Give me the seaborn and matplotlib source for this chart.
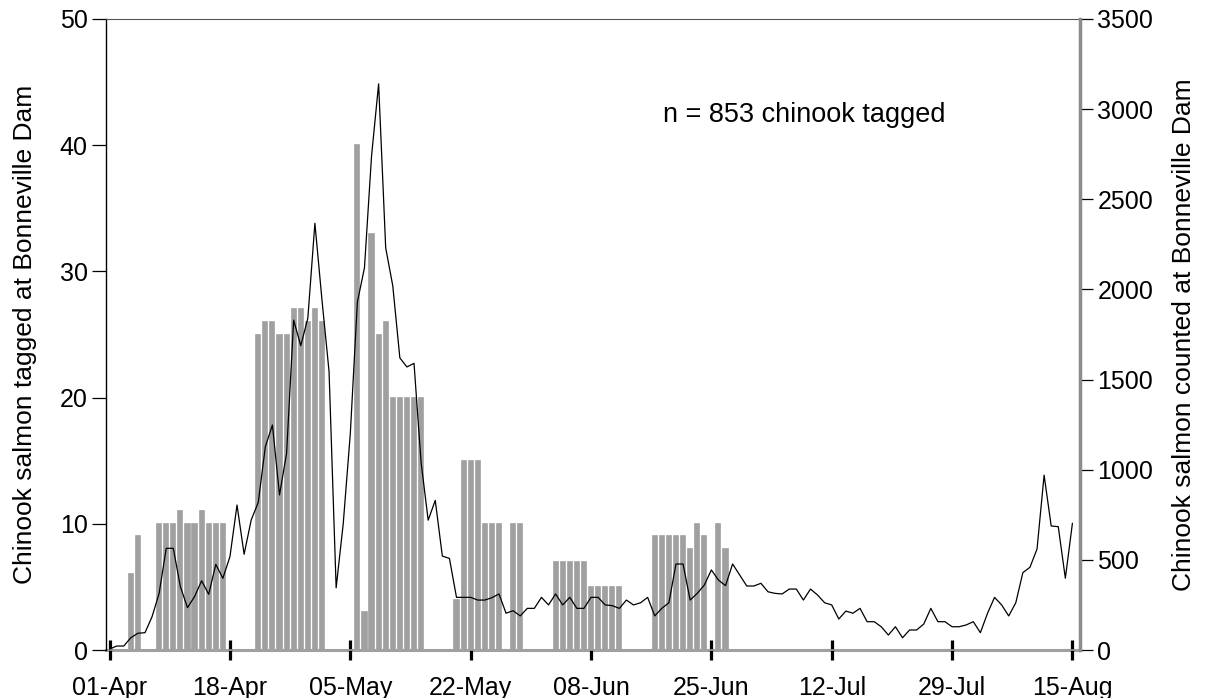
import numpy as np
import pandas as pd
import matplotlib
matplotlib.use("Agg")
import matplotlib.pyplot as plt
import seaborn as sns

# Daily series, 01-Apr through 15-Aug (137 days)
dates = pd.date_range("2000-04-01", "2000-08-15", freq="D")

# Adult chinook counted at the dam each day (right axis)
counted = [
    5, 22, 22, 68, 93, 96, 185, 315, 564, 564,
    351, 235, 296, 384, 309, 475, 398, 518, 804, 531,
    721, 819, 1128, 1248, 860, 1091, 1830, 1688, 1840, 2367,
    1941, 1544, 345, 700, 1200, 1930, 2120, 2740, 3140, 2230,
    2020, 1620, 1570, 1590, 1040, 720, 830, 521, 508, 292,
    292, 292, 277, 277, 290, 311, 204, 218, 189, 231,
    231, 292, 250, 311, 250, 292, 231, 231, 292, 292,
    250, 246, 231, 277, 250, 262, 292, 189, 231, 262,
    477, 477, 277, 314, 360, 444, 388, 357, 477, 416,
    355, 355, 370, 323, 314, 311, 338, 338, 277, 338,
    305, 262, 250, 172, 216, 204, 231, 157, 157, 129,
    83, 129, 68, 111, 111, 144, 231, 157, 157, 129,
    129, 139, 157, 96, 203, 292, 250, 189, 262, 429,
    459, 560, 970, 688, 684, 398, 703,
]

# Chinook tagged each day (left axis); days not listed are zero
tagged_runs = {
    3: [6, 9],
    7: [10, 10, 10, 11, 10, 10, 11, 10, 10, 10],
    21: [25, 26, 26, 25, 25, 27, 27, 26, 27, 26],
    35: [40, 3, 33, 25, 26, 20, 20, 20, 20, 20],
    49: [4, 15, 15, 15, 10, 10, 10, 0, 10, 10],
    63: [7, 7, 7, 7, 7, 5, 5, 5, 5, 5],
    77: [9, 9, 9, 9, 9, 8, 10, 9, 0, 10, 8],
}

tick_labels = ["01-Apr", "18-Apr", "05-May", "22-May", "08-Jun",
               "25-Jun", "12-Jul", "29-Jul", "15-Aug"]

tagged = np.zeros(len(dates), dtype=int)
for start, vals in tagged_runs.items():
    tagged[start:start + len(vals)] = vals

df = pd.DataFrame({
    "day": np.arange(len(dates)),
    "date": dates,
    "tagged": tagged,
    "counted": counted,
})
tick_days = [df.index[df["date"].dt.strftime("%d-%b") == lab][0] for lab in tick_labels]

sns.set_theme(style="ticks")
plt.rcParams["font.family"] = ["Liberation Sans", "DejaVu Sans"]
plt.rcParams["text.color"] = "black"
plt.rcParams["xtick.labelcolor"] = "black"
plt.rcParams["ytick.labelcolor"] = "black"
plt.rcParams["axes.labelcolor"] = "black"

GRAY = "#a0a0a0"
FS = 18

fig = plt.figure(figsize=(12.05, 6.98), dpi=100)
ax = fig.add_axes([105.7 / 1205, 1 - 650 / 698, (1080 - 105.7) / 1205, (650 - 19) / 698])

sns.barplot(data=df, x="day", y="tagged", native_scale=True, width=0.58,
            color=GRAY, saturation=1, edgecolor=GRAY, linewidth=1.2,
            errorbar=None, ax=ax)
for p in ax.patches:
    p.set_clip_on(False)

ax2 = ax.twinx()
sns.lineplot(data=df, x="day", y="counted", color="black", linewidth=0.9, ax=ax2)

ax.set_xlim(-0.55, 137.07)
ax.set_ylim(0, 50)
ax2.set_ylim(0, 3500)

ax.set_xticks(tick_days)
ax.set_xticklabels(tick_labels, fontsize=FS)
ax.set_yticks(range(0, 51, 10))
ax.tick_params(axis="y", labelsize=FS, direction="out", length=10, width=0.9,
               color="black", labelcolor="black", pad=3)
ax.tick_params(axis="x", direction="inout", length=14, width=2.3,
               color="black", labelcolor="black", pad=12)
ax2.set_yticks(range(0, 3501, 500))
ax2.tick_params(axis="y", labelsize=FS, direction="out", length=9.5, width=0.9,
                color="black", labelcolor="black", pad=3)

ax.set_xlabel("")
ax.set_ylabel("Chinook salmon tagged at Bonneville Dam", fontsize=FS + 1, color="black")
ax2.set_ylabel("Chinook salmon counted at Bonneville Dam", fontsize=FS + 1, color="black")
ax.yaxis.set_label_coords(-0.07, 0.5)
ax2.yaxis.set_label_coords(1.094, 0.5)

ax.spines["right"].set_visible(False)
ax.spines["bottom"].set_color(GRAY)
ax.spines["bottom"].set_linewidth(2.2)
ax.spines["bottom"].set_zorder(0.5)
ax.spines["left"].set_color("black")
ax.spines["left"].set_linewidth(1.0)
ax.spines["top"].set_color("#555555")
ax.spines["top"].set_linewidth(0.8)
for s in ("bottom", "left", "top"):
    ax2.spines[s].set_visible(False)
ax2.spines["right"].set_color("#8c8c8c")
ax2.spines["right"].set_linewidth(2.5)

ax.text(78.2, 42.4, "n = 853 chinook tagged", fontsize=FS + 1.5,
        ha="left", va="center", color="black")

fig.savefig("out.png", dpi=100)
